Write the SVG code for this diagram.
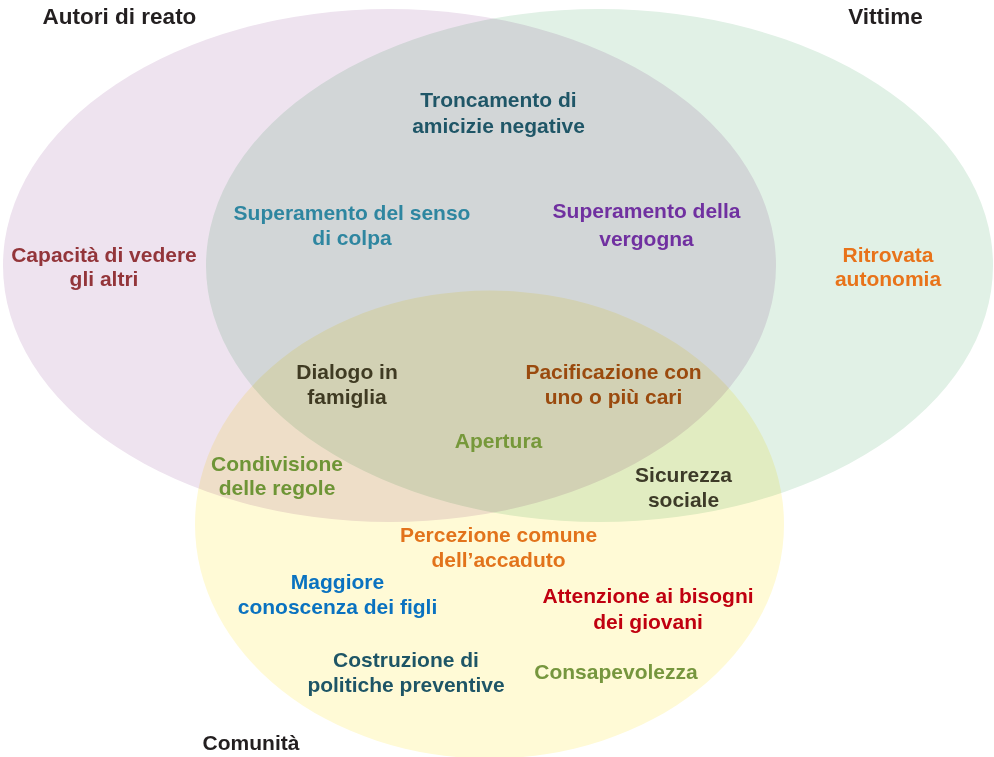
<svg xmlns="http://www.w3.org/2000/svg" width="994" height="757" viewBox="0 0 994 757">
  <style>
    .set { mix-blend-mode: multiply; }
    text { font-family: "Liberation Sans", Arial, sans-serif; font-weight: bold; font-size: 21px; text-anchor: middle; }
    .title { fill: #231f20; }
    .title-lg { font-size: 22.5px; }
  </style>
  <rect width="994" height="757" fill="#ffffff"/>

  <!-- three overlapping sets, multiplied so the overlaps darken -->
  <g id="sets" style="isolation:isolate">
    <ellipse id="set-autori" class="set" cx="389.5" cy="265.5" rx="386.5" ry="256.5" fill="#eee3ef"/>
    <ellipse id="set-vittime" class="set" cx="599.5" cy="265.5" rx="393.5" ry="256.5" fill="#e1f1e6"/>
    <ellipse id="set-comunita" class="set" cx="489.5" cy="524.5" rx="294.5" ry="234" fill="#fffad6"/>
  </g>

  <!-- set titles -->
  <g id="title-autori"><text class="title title-lg" x="119.5" y="24">Autori di reato</text></g>
  <g id="title-vittime"><text class="title title-lg" x="885.5" y="24">Vittime</text></g>
  <g id="title-comunita"><text class="title" x="251" y="750">Comunità</text></g>

  <!-- region labels -->
  <g id="troncamento" fill="#1f5667">
    <text x="498.5" y="107">Troncamento di</text>
    <text x="498.5" y="133">amicizie negative</text>
  </g>
  <g id="senso-colpa" fill="#2e86a0">
    <text x="352" y="220">Superamento del senso</text>
    <text x="352" y="245">di colpa</text>
  </g>
  <g id="capacita" fill="#93353a">
    <text x="104" y="262">Capacità di vedere</text>
    <text x="104" y="286">gli altri</text>
  </g>
  <g id="vergogna" fill="#7030a0">
    <text x="646.5" y="218">Superamento della</text>
    <text x="646.5" y="246">vergogna</text>
  </g>
  <g id="autonomia" fill="#e8731a">
    <text x="888" y="262">Ritrovata</text>
    <text x="888" y="286">autonomia</text>
  </g>
  <g id="dialogo" fill="#3f3a22">
    <text x="347" y="379">Dialogo in</text>
    <text x="347" y="404">famiglia</text>
  </g>
  <g id="pacificazione" fill="#9a4a0e">
    <text x="613.5" y="379">Pacificazione con</text>
    <text x="613.5" y="404">uno o più cari</text>
  </g>
  <g id="apertura" fill="#76983a">
    <text x="498.5" y="448">Apertura</text>
  </g>
  <g id="condivisione" fill="#6e9536">
    <text x="277" y="471">Condivisione</text>
    <text x="277" y="495">delle regole</text>
  </g>
  <g id="sicurezza" fill="#3d3a28">
    <text x="683.5" y="482">Sicurezza</text>
    <text x="683.5" y="507">sociale</text>
  </g>
  <g id="percezione" fill="#e2731b">
    <text x="498.5" y="542">Percezione comune</text>
    <text x="498.5" y="567">dell’accaduto</text>
  </g>
  <g id="conoscenza" fill="#0a72c0">
    <text x="337.5" y="589">Maggiore</text>
    <text x="337.5" y="614">conoscenza dei figli</text>
  </g>
  <g id="attenzione" fill="#c00010">
    <text x="648" y="603">Attenzione ai bisogni</text>
    <text x="648" y="629">dei giovani</text>
  </g>
  <g id="politiche" fill="#1e5566">
    <text x="406" y="667">Costruzione di</text>
    <text x="406" y="692">politiche preventive</text>
  </g>
  <g id="consapevolezza" fill="#76963e">
    <text x="616" y="679">Consapevolezza</text>
  </g>
</svg>
